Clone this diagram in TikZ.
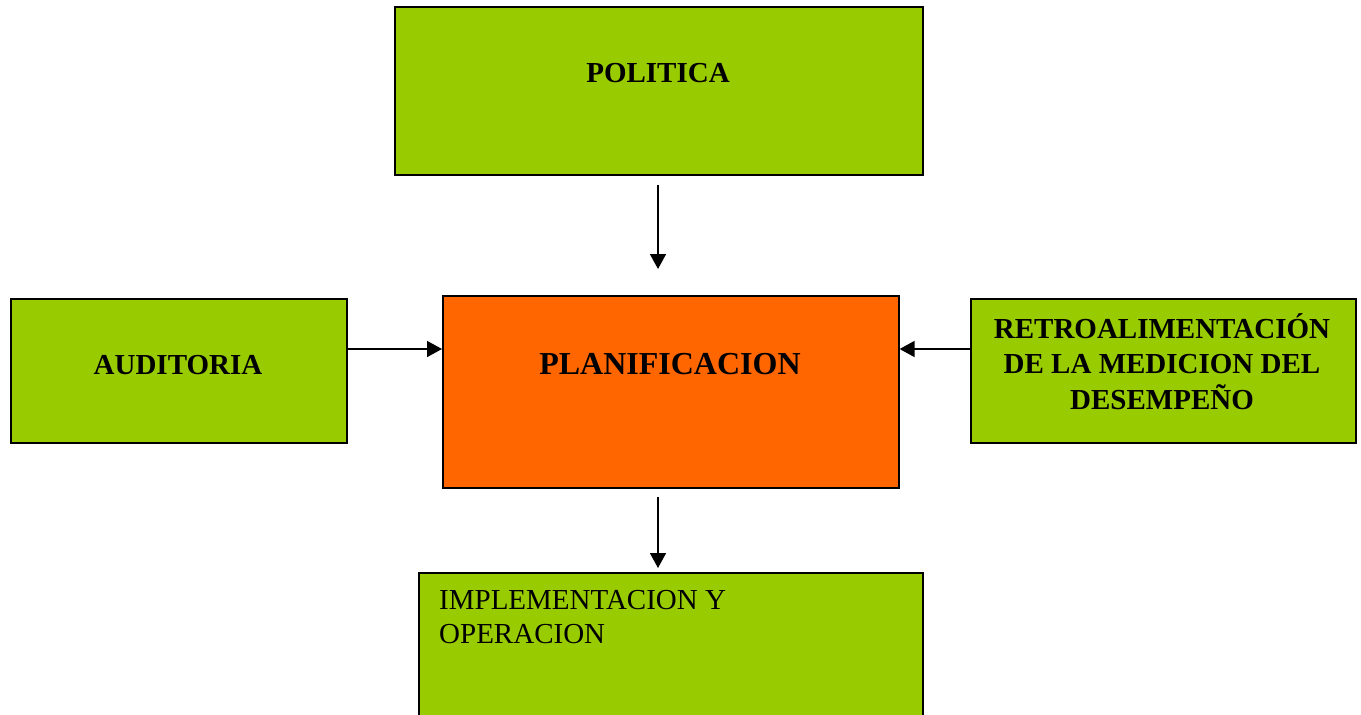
\documentclass[tikz,border=0pt]{standalone}
\usepackage{fontspec}
\setmainfont{Liberation Serif}
\usetikzlibrary{arrows.meta}
\definecolor{boxgreen}{HTML}{99CC00}
\definecolor{boxorange}{HTML}{FF6600}
\begin{document}
\begin{tikzpicture}[x=1pt,y=-1pt,
  gbox/.style={draw=black, line width=1.6pt, fill=boxgreen, rectangle, inner sep=0pt, anchor=north west},
  obox/.style={gbox, fill=boxorange},
  btext/.style={font=\fontsize{29}{35.5}\selectfont\bfseries, inner sep=0pt, anchor=base, align=center},
  rtext/.style={font=\fontsize{29}{34}\selectfont, inner sep=0pt, align=left},
  conn/.style={line width=1.6pt, -{Triangle[length=15pt,width=16pt]}}]
\useasboundingbox (0,0) rectangle (1361,715);
\node[gbox, minimum width=528pt, minimum height=168pt] (pol) at (394,6) {};
\node[obox, minimum width=456pt, minimum height=192pt] (plan) at (442,295) {};
\node[gbox, minimum width=336pt, minimum height=144pt] (aud) at (10,298) {};
\node[gbox, minimum width=385pt, minimum height=144pt] (ret) at (970,298) {};
\node[gbox, minimum width=504pt, minimum height=160pt] (impl) at (418,572) {};
\node[btext] (poltext) at (658,82) {POLITICA};
\node[btext, font=\fontsize{32}{38}\selectfont\bfseries] (plantext) at (670,374) {PLANIFICACION};
\node[btext] (audtext) at (178,374) {AUDITORIA};
\node[btext, anchor=north] (rettext) at (1162,313) {RETROALIMENTACIÓN\\DE LA MEDICION DEL\\DESEMPEÑO};
\node[rtext, anchor=north west] (impltext) at (439,590) {IMPLEMENTACION Y\\OPERACION};
\coordinate (hy) at (0,349);
\draw[conn, shorten <=9pt, shorten >=26pt] (pol.south -| 658,0) -- (plan.north -| 658,0);
\draw[conn] (aud.east |- hy) -- (plan.west |- hy);
\draw[conn] (ret.west |- hy) -- (plan.east |- hy);
\draw[conn, shorten <=8pt, shorten >=4pt] (plan.south -| 658,0) -- (impl.north -| 658,0);
\end{tikzpicture}
\end{document}
